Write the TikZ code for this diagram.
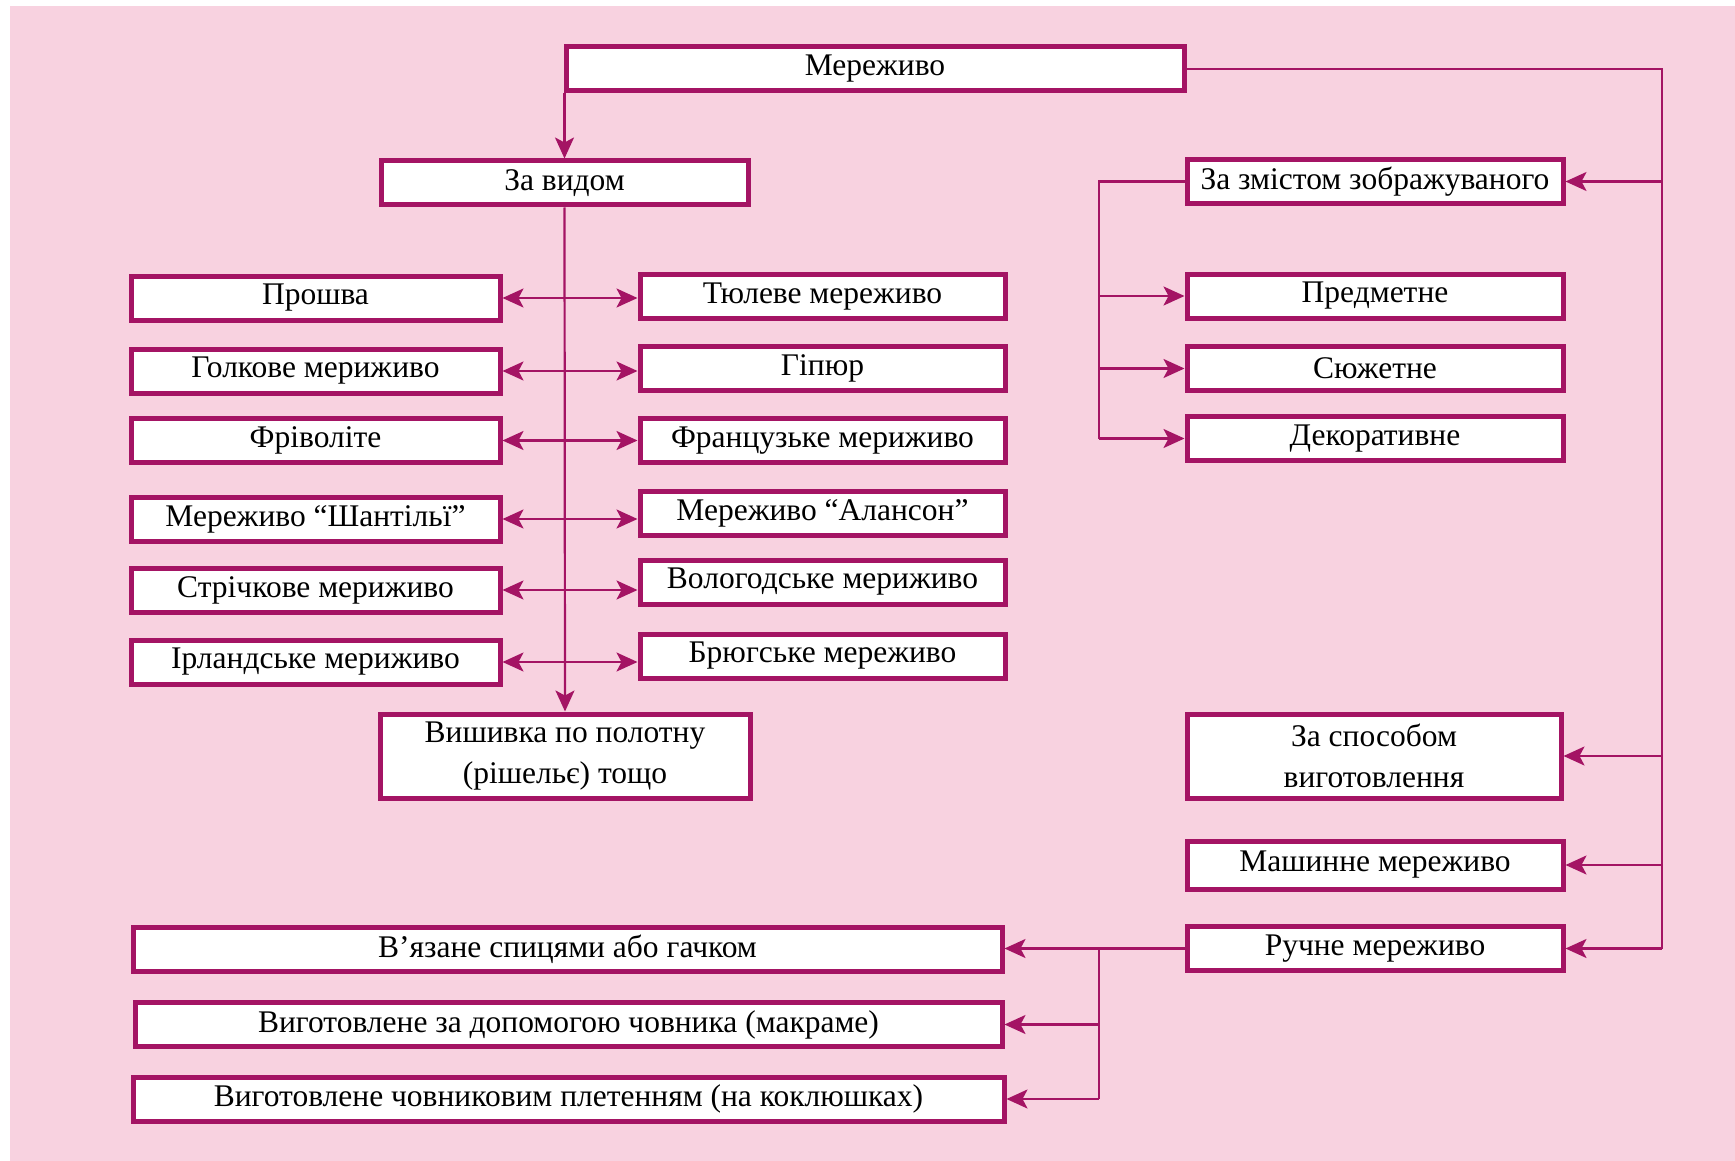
\documentclass[tikz,border=0pt]{standalone}
\usepackage{fontspec}
\setmainfont{Liberation Serif}
\usetikzlibrary{arrows.meta}
\definecolor{lacepink}{RGB}{248,210,224}
\definecolor{laceline}{RGB}{164,20,100}

\begin{document}
\begin{tikzpicture}[x=1pt, y=-1pt,
  kind/.style={draw=laceline, line width=5pt, fill=white, inner sep=0pt,
    minimum height=44pt, align=center, font=\fontsize{31.5}{41}\selectfont},
  link/.style={draw=laceline, line width=2.2pt, -{Stealth[length=21pt,width=19pt,inset=5pt]}},
  both/.style={link, {Stealth[length=21pt,width=19pt,inset=5pt]}-{Stealth[length=21pt,width=19pt,inset=5pt]}},
  bus/.style={draw=laceline, line width=2.2pt}]

\useasboundingbox (0,0) rectangle (1735,1161);
\fill[lacepink] (10,6) rectangle (1735,1161);

% top
\node[kind, minimum width=618pt] (lace) at (875,69) {Мереживо};
\node[kind, minimum width=367pt] (bykind) at (564.5,183) {За видом};
\node[kind, minimum width=376pt] (bycontent) at (1375,181.5) {За змістом зображуваного};

% by kind, left and right
\node[kind, minimum width=369pt] (l1) at (315.5,298) {Прошва};
\node[kind, minimum width=369pt] (l2) at (315.5,371) {Голкове мериживо};
\node[kind, minimum width=369pt] (l3) at (315.5,440.5) {Фріволіте};
\node[kind, minimum width=369pt] (l4) at (315.5,519) {Мереживо “Шантільї”};
\node[kind, minimum width=369pt] (l5) at (315.5,590) {Стрічкове мериживо};
\node[kind, minimum width=369pt] (l6) at (315.5,662) {Ірландське мериживо};
\node[kind, minimum width=365pt] (r1) at (822.5,296.5) {Тюлеве мереживо};
\node[kind, minimum width=365pt] (r2) at (822.5,368.5) {Гіпюр};
\node[kind, minimum width=365pt] (r3) at (822.5,440.5) {Французьке мериживо};
\node[kind, minimum width=365pt] (r4) at (822.5,513.5) {Мереживо “Алансон”};
\node[kind, minimum width=365pt] (r5) at (822.5,582) {Вологодське мериживо};
\node[kind, minimum width=365pt] (r6) at (822.5,656) {Брюгське мереживо};
\node[kind, minimum width=370pt, minimum height=84pt] (embroid) at (565,756)
  {Вишивка по полотну\\(рішельє) тощо};

% by content
\node[kind, minimum width=376pt] (object) at (1375,296) {Предметне};
\node[kind, minimum width=376pt] (plot) at (1375,368.5) {Сюжетне};
\node[kind, minimum width=376pt] (decor) at (1375,438.5) {Декоративне};

% by way of making
\node[kind, minimum width=374pt, minimum height=84pt] (byway) at (1374,756)
  {За способом\\виготовлення};
\node[kind, minimum width=376pt, minimum height=48pt] (machine) at (1375,865) {Машинне мереживо};
\node[kind, minimum width=376pt] (hand) at (1375,948.5) {Ручне мереживо};
\node[kind, minimum width=869pt] (knit) at (567.5,949.5) {В’язане спицями або гачком};
\node[kind, minimum width=867pt] (shuttle) at (568.5,1024.5) {Виготовлене за допомогою човника (макраме)};
\node[kind, minimum width=871pt] (bobbin) at (568.5,1099) {Виготовлене човниковим плетенням (на коклюшках)};

\coordinate (rbus) at (1662,69);
\coordinate (cbus) at (1099,0);

% connectors
\draw[link] (lace.south -| bykind.north) -- (bykind.north);
\draw[link] (bykind.south) -- (embroid.north);
\foreach \i in {1,...,6}
  \draw[both] (l\i.east) -- (l\i.east -| r\i.west);

\draw[bus] (lace.east |- rbus) -- (rbus) -- (rbus |- hand.east);
\draw[link] (rbus |- bycontent.east) -- (bycontent.east);
\draw[link] (rbus |- byway.east) -- (byway.east);
\draw[link] (rbus |- machine.east) -- (machine.east);
\draw[link] (rbus |- hand.east) -- (hand.east);

\draw[bus] (bycontent.west) -- (cbus |- bycontent.west) -- (cbus |- decor.west);
\draw[link] (cbus |- object.west) -- (object.west);
\draw[link] (cbus |- plot.west) -- (plot.west);
\draw[link] (cbus |- decor.west) -- (decor.west);

\draw[link] (hand.west) -- (hand.west -| knit.east);
\draw[bus] (cbus |- hand.west) -- (cbus |- bobbin.east);
\draw[link] (cbus |- shuttle.east) -- (shuttle.east);
\draw[link] (cbus |- bobbin.east) -- (bobbin.east);
\end{tikzpicture}
\end{document}
